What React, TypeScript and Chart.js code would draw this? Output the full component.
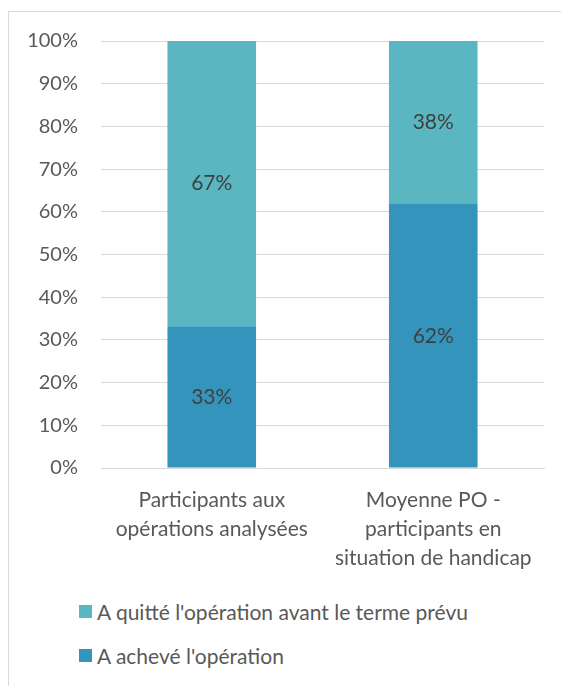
import React, { useEffect, useRef } from "react";
import { Chart, registerables } from "chart.js";

Chart.register(...registerables);

const categories: string[][] = [
  ["Participants aux", "opérations analysées"],
  ["Moyenne PO -", "participants en", "situation de handicap"],
];
const seriesNames = ["A achevé l'opération", "A quitté l'opération avant le terme prévu"];
const acheve = [33.2, 61.8];
const quitte = [66.8, 38.2];
const colors = ["#3594BC", "#5AB6C0"];
const yTicks = [0, 10, 20, 30, 40, 50, 60, 70, 80, 90, 100];

const FONT = "Lato, 'Open Sans', sans-serif";

const labelPlugin = {
  id: "segLabels",
  afterDatasetsDraw(chart: any) {
    const ctx = chart.ctx;
    ctx.save();
    ctx.font = `21px ${FONT}`;
    ctx.fillStyle = "#404040";
    ctx.textAlign = "center";
    ctx.textBaseline = "middle";
    chart.data.datasets.forEach((ds: any, di: number) => {
      const meta = chart.getDatasetMeta(di);
      meta.data.forEach((el: any, i: number) => {
        const v = ds.data[i];
        const cy = (el.y + el.base) / 2;
        ctx.fillText(Math.round(v) + "%", el.x, cy);
      });
    });
    ctx.restore();
  },
};

export default function App() {
  const ref = useRef<HTMLCanvasElement>(null);
  useEffect(() => {
    if (!ref.current) return;
    const chart = new Chart(ref.current, {
      type: "bar",
      data: {
        labels: categories,
        datasets: [
          { label: seriesNames[0], data: acheve, backgroundColor: colors[0] },
          { label: seriesNames[1], data: quitte, backgroundColor: colors[1] },
        ],
      },
      options: {
        responsive: false,
        animation: false,
        layout: { padding: { top: 29, right: 25, left: 0, bottom: 0 } },
        plugins: { legend: { display: false }, tooltip: { enabled: false } },
        datasets: { bar: { barPercentage: 0.4, categoryPercentage: 1 } },
        scales: {
          x: {
            stacked: true,
            grid: { display: false, drawTicks: false },
            border: { display: true, color: "#d9d9d9" },
            ticks: {
              color: "#595959",
              font: { family: FONT, size: 21, lineHeight: 1.38 },
              padding: 18,
              maxRotation: 0,
              autoSkip: false,
            },
            afterFit: (axis: any) => {
              axis.height = 119;
            },
          },
          y: {
            stacked: true,
            min: 0,
            max: 100,
            afterBuildTicks: (axis: any) => {
              axis.ticks = yTicks.map((v) => ({ value: v }));
            },
            grid: {
              color: "#d9d9d9",
              drawTicks: true,
              tickLength: 23,
              tickColor: "rgba(0,0,0,0)",
            },
            border: { display: false },
            ticks: {
              color: "#595959",
              font: { family: FONT, size: 20 },
              padding: 0,
              callback: (v: any) => v + "%",
            },
            afterFit: (axis: any) => {
              axis.width = 92;
            },
          },
        },
      },
      plugins: [labelPlugin],
    });
    return () => chart.destroy();
  }, []);

  const legendItems = [
    { name: seriesNames[1], color: colors[1], top: 587 },
    { name: seriesNames[0], color: colors[0], top: 631 },
  ];

  return (
    <div style={{ paddingTop: 3 }}>
      <div
        style={{
          position: "relative",
          borderLeft: "1px solid #d9d9d9",
          borderTop: "1px solid #d9d9d9",
          width: 560,
          height: 675,
          fontFamily: FONT,
        }}
      >
        <canvas ref={ref} width={560} height={575} style={{ display: "block" }} />
        {legendItems.map((it) => (
          <div
            key={it.name}
            style={{
              position: "absolute",
              left: 70,
              top: it.top,
              height: 24,
              display: "flex",
              alignItems: "center",
              fontSize: 21,
              color: "#595959",
              whiteSpace: "nowrap",
            }}
          >
            <span style={{ display: "inline-block", width: 13, height: 13, background: it.color, marginRight: 5 }} />
            <span>{it.name}</span>
          </div>
        ))}
      </div>
    </div>
  );
}
